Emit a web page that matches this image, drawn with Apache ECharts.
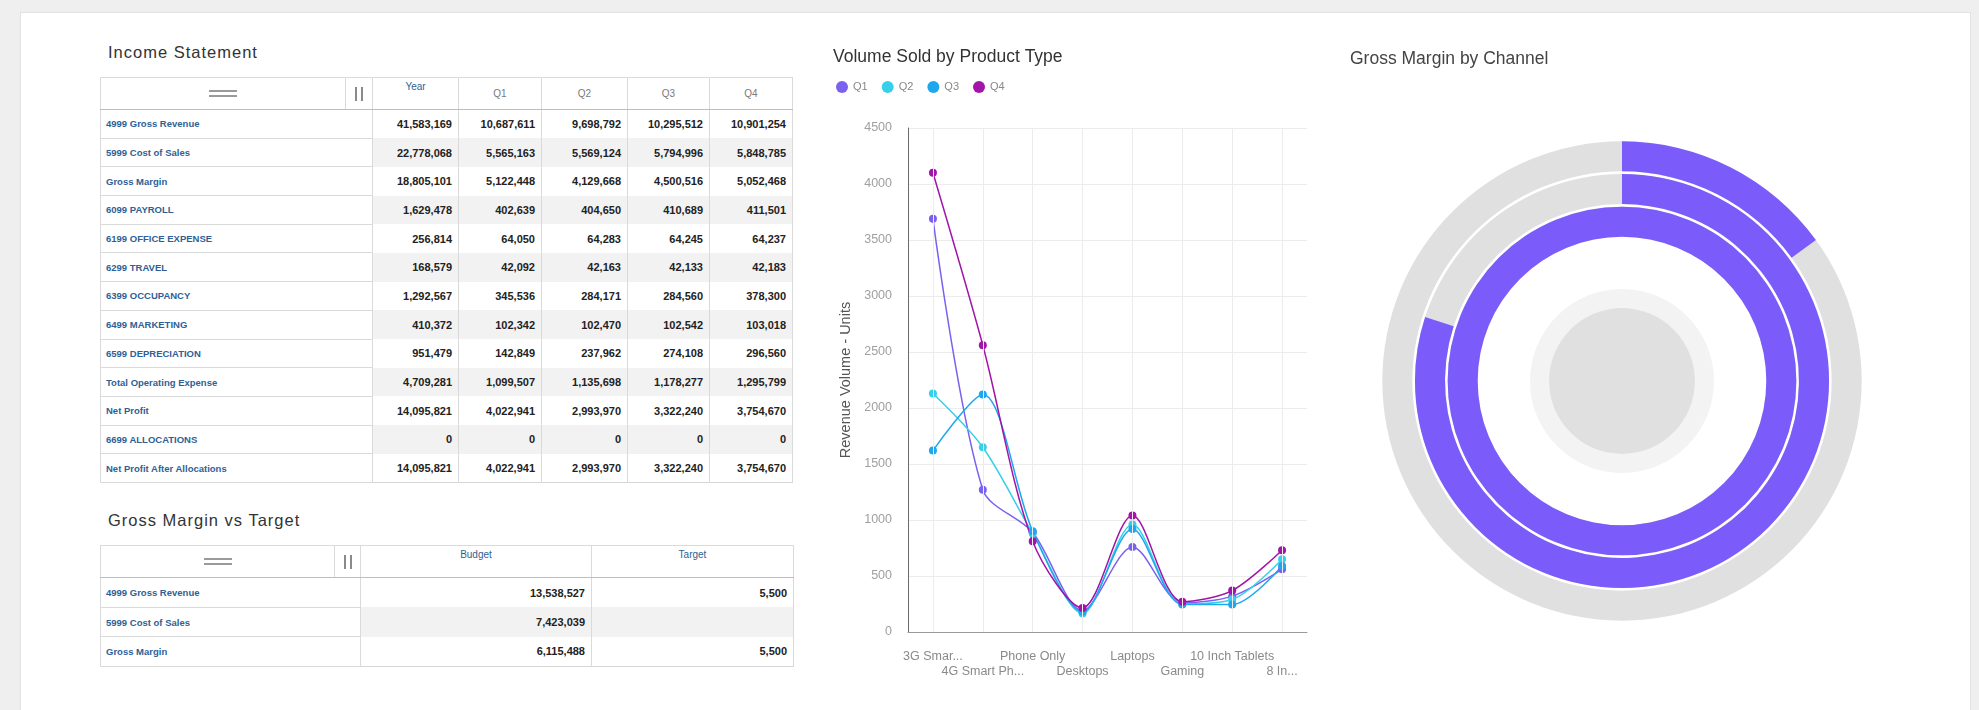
<!DOCTYPE html>
<html>
<head>
<meta charset="utf-8">
<title>Dashboard</title>
<script src="https://cdn.jsdelivr.net/npm/echarts@6/dist/echarts.min.js"></script>
<style>
  html, body { margin: 0; padding: 0; width: 1979px; height: 710px; overflow: hidden; background: #efefef;
    font-family: "Liberation Sans", Arial, sans-serif; }
  #panel { position: absolute; left: 20px; top: 12px; width: 1949px; height: 720px; background: #fff; border: 1px solid #e2e2e2; }
  #chart { position: absolute; left: 0; top: 0; width: 1979px; height: 710px; }
  .block-title { position: absolute; font-size: 16.5px; color: #333; letter-spacing: 1px; white-space: nowrap; }
  table.grid { position: absolute; border-collapse: collapse; table-layout: fixed; border: 1px solid #d6d6d6; }
  table.grid th, table.grid td { border: 1px solid #dadada; padding: 0 6px; overflow: hidden; white-space: nowrap; }
  table.grid th { font-weight: normal; font-size: 10px; color: #7a7a7a; text-align: center; vertical-align: middle;
    border-bottom: 1px solid #bdbdbd; }
  table.grid th.dim { color: #2f5f96; vertical-align: top; padding-top: 3px; }
  table.grid td.lbl { color: #2f5f96; font-weight: bold; font-size: 9.5px; text-align: left; padding-left: 5px; }
  table.grid td.num { color: #222; font-weight: bold; font-size: 11px; text-align: right; border-top: none; border-bottom: none; }
  table.grid tr.alt td.num { background: #f2f2f2; }
  .rows-icon { margin: 0 auto; width: 28px; height: 3px; border-top: 2px solid #9a9a9a; border-bottom: 2px solid #9a9a9a; }
  .cols-icon { margin: 0 auto; width: 4px; height: 14px; border-left: 2px solid #8a8a8a; border-right: 2px solid #8a8a8a; }
</style>
</head>
<body>
<div id="panel"></div>
<div class="block-title" style="left:108px; top:43px;">Income Statement</div>
<table class="grid" id="income" style="left:100px; top:77px; width:692px;"></table>
<div class="block-title" style="left:108px; top:511px;">Gross Margin vs Target</div>
<table class="grid" id="target" style="left:100px; top:545px; width:693px;"></table>
<div id="chart"></div>
<script>
// ---- Income Statement ----
const incomeAccounts = ['4999 Gross Revenue', '5999 Cost of Sales', 'Gross Margin', '6099 PAYROLL', '6199 OFFICE EXPENSE',
  '6299 TRAVEL', '6399 OCCUPANCY', '6499 MARKETING', '6599 DEPRECIATION', 'Total Operating Expense', 'Net Profit',
  '6699 ALLOCATIONS', 'Net Profit After Allocations'];
const incomePeriods = ['Year', 'Q1', 'Q2', 'Q3', 'Q4'];
const incomeYear = [41583169, 22778068, 18805101, 1629478, 256814, 168579, 1292567, 410372, 951479, 4709281, 14095821, 0, 14095821];
const incomeQ1 = [10687611, 5565163, 5122448, 402639, 64050, 42092, 345536, 102342, 142849, 1099507, 4022941, 0, 4022941];
const incomeQ2 = [9698792, 5569124, 4129668, 404650, 64283, 42163, 284171, 102470, 237962, 1135698, 2993970, 0, 2993970];
const incomeQ3 = [10295512, 5794996, 4500516, 410689, 64245, 42133, 284560, 102542, 274108, 1178277, 3322240, 0, 3322240];
const incomeQ4 = [10901254, 5848785, 5052468, 411501, 64237, 42183, 378300, 103018, 296560, 1295799, 3754670, 0, 3754670];

// ---- Gross Margin vs Target ----
const targetAccounts = ['4999 Gross Revenue', '5999 Cost of Sales', 'Gross Margin'];
const targetColumns = ['Budget', 'Target'];
const budgetValues = [13538527, 7423039, 6115488];
const targetValues = [5500, null, 5500];

// ---- Volume Sold by Product Type ----
const quarters = ['Q1', 'Q2', 'Q3', 'Q4'];
const products = ['3G Smart Phones', '4G Smart Phones', 'Phone Only', 'Desktops', 'Laptops', 'Gaming', '10 Inch Tablets', '8 Inch Tablets'];
const productTickLabels = ['3G Smar...', '4G Smart Ph...', 'Phone Only', 'Desktops', 'Laptops', 'Gaming', '10 Inch Tablets', '8 In...'];
const volumeQ1 = [3690, 1270, 890, 190, 760, 260, 320, 560];
const volumeQ2 = [2130, 1650, 880, 165, 960, 250, 290, 650];
const volumeQ3 = [1620, 2120, 900, 180, 920, 245, 245, 590];
const volumeQ4 = [4100, 2560, 810, 215, 1040, 270, 370, 730];

// ---- Gross Margin by Channel (percent of target) ----
const channels = ['Retail', 'Direct', 'Online'];
const channelMarginPct = [100, 80, 15];

const fmt = v => (v === null ? '' : v.toLocaleString('en-US'));

function buildTable(el, widths, headers, accounts, columns, dimCols, rowHeight) {
  let html = '<colgroup>' + widths.map(w => `<col style="width:${w}px">`).join('') + '</colgroup>';
  html += '<tr style="height:32px"><th><div class="rows-icon"></div></th><th style="padding:0"><div class="cols-icon"></div></th>';
  headers.forEach((h, i) => {
    html += `<th class="${dimCols.includes(i) ? 'dim' : ''}">${h}</th>`;
  });
  html += '</tr>';
  accounts.forEach((a, r) => {
    html += `<tr class="${r % 2 === 1 ? 'alt' : ''}" style="height:${rowHeight}px"><td class="lbl" colspan="2">${a}</td>`;
    columns.forEach(col => { html += `<td class="num">${fmt(col[r])}</td>`; });
    html += '</tr>';
  });
  el.innerHTML = html;
}

buildTable(document.getElementById('income'), [245, 27, 86, 83, 86, 82, 83], incomePeriods, incomeAccounts,
  [incomeYear, incomeQ1, incomeQ2, incomeQ3, incomeQ4], [0], 28.7);
buildTable(document.getElementById('target'), [234, 26, 231, 202], targetColumns, targetAccounts,
  [budgetValues, targetValues], [0, 1], 29.7);

// ---- charts ----
const quarterColors = ['#7b61f0', '#38d0e8', '#1ea6ee', '#a314a8'];
const volumes = [volumeQ1, volumeQ2, volumeQ3, volumeQ4];

const lineSeries = quarters.map((q, i) => ({
  name: q,
  type: 'line',
  data: volumes[i],
  smooth: 0.3,
  symbol: 'circle',
  symbolSize: 8,
  showSymbol: true,
  lineStyle: { width: 1.5, color: quarterColors[i] },
  itemStyle: { color: quarterColors[i] },
  z: 3,
  markLine: i === 0 ? {
    silent: true,
    symbol: ['none', 'none'],
    label: { show: false },
    emphasis: { disabled: true },
    lineStyle: { color: '#ececec', width: 1, type: 'solid' },
    data: products.map(p => ({ xAxis: p }))
  } : undefined
}));

const chart = echarts.init(document.getElementById('chart'), null, { renderer: 'canvas' });
chart.setOption({
  animation: false,
  textStyle: { fontFamily: '"Liberation Sans", Arial, sans-serif' },
  title: [
    { text: 'Volume Sold by Product Type', left: 833, top: 48, padding: 0,
      textStyle: { fontSize: 17.5, fontWeight: 'normal', color: '#333' } },
    { text: 'Gross Margin by Channel', left: 1350, top: 50, padding: 0,
      textStyle: { fontSize: 17.5, fontWeight: 'normal', color: '#444' } }
  ],
  legend: {
    data: quarters, left: 836, top: 81, padding: 0, icon: 'circle', itemWidth: 12, itemHeight: 12, itemGap: 14,
    textStyle: { fontSize: 11, color: '#888' }
  },
  grid: { left: 908, top: 128, width: 399, height: 504, containLabel: false },
  xAxis: {
    type: 'category',
    data: products,
    boundaryGap: true,
    axisLine: { show: true, lineStyle: { color: '#9a9a9a' } },
    axisTick: { show: false },
    splitLine: { show: false },
    axisLabel: {
      interval: 0, margin: 17, fontSize: 12.5, color: '#8a8a8a', lineHeight: 15,
      formatter: (v, i) => (i % 2 ? '\n' + productTickLabels[i] : productTickLabels[i])
    }
  },
  yAxis: {
    type: 'value', min: 0, max: 4500, interval: 500,
    name: 'Revenue Volume - Units', nameLocation: 'middle', nameGap: 55,
    nameTextStyle: { fontSize: 14.5, color: '#555' },
    axisLine: { show: true, lineStyle: { color: '#6a6a6a' } },
    axisTick: { show: false },
    axisLabel: { fontSize: 12.5, color: '#a0a0a0', margin: 16, formatter: v => String(v) },
    splitLine: { lineStyle: { color: '#ececec' } }
  },
  polar: { center: [1622, 381], radius: [143, 241] },
  angleAxis: {
    type: 'value', min: 0, max: 100, startAngle: 90, clockwise: true,
    axisLine: { show: false }, axisTick: { show: false }, axisLabel: { show: false }, splitLine: { show: false }
  },
  radiusAxis: {
    type: 'category', data: channels,
    axisLine: { show: false }, axisTick: { show: false }, axisLabel: { show: false }, splitLine: { show: false }
  },
  series: lineSeries.concat([
    {
      type: 'bar', coordinateSystem: 'polar', data: channelMarginPct,
      barCategoryGap: '8%', silent: true,
      showBackground: true, backgroundStyle: { color: '#e0e0e0' },
      itemStyle: { color: '#7b5cfa' }
    },
    {
      type: 'pie', center: [1622, 381], radius: [73, 92], silent: true,
      label: { show: false }, labelLine: { show: false }, emphasis: { disabled: true },
      itemStyle: { color: '#f3f3f3', borderWidth: 0 },
      data: [{ value: 1, name: 'ring' }]
    },
    {
      type: 'pie', center: [1622, 381], radius: [0, 73], silent: true,
      label: { show: false }, labelLine: { show: false }, emphasis: { disabled: true },
      itemStyle: { color: '#e0e0e0', borderWidth: 0 },
      data: [{ value: 1, name: 'hub' }]
    }
  ])
});
</script>
</body>
</html>
